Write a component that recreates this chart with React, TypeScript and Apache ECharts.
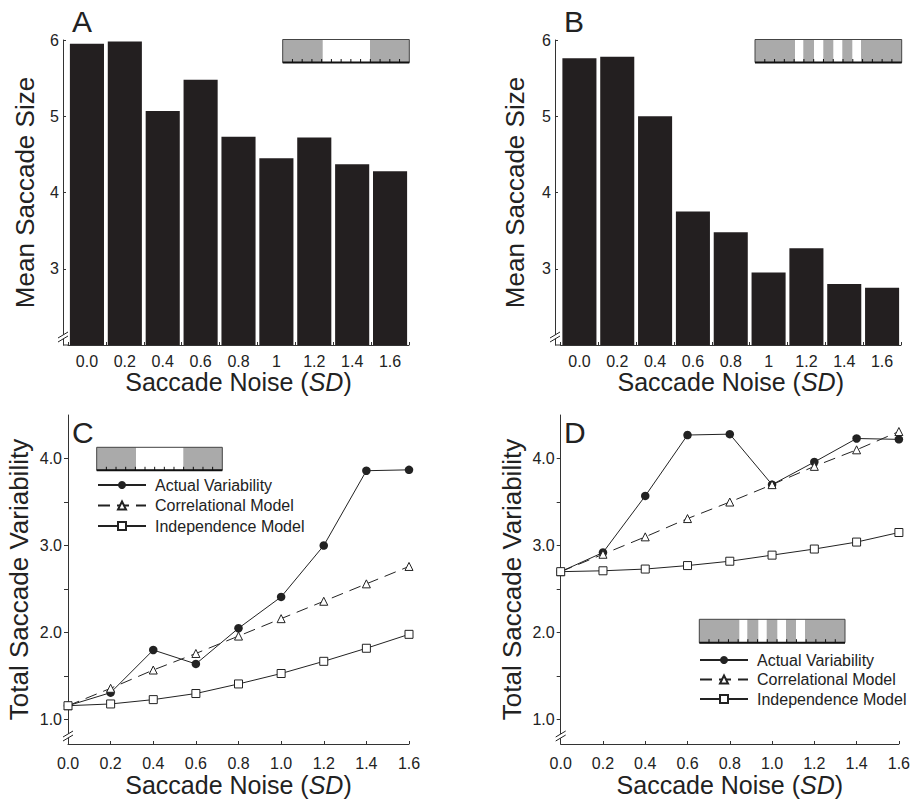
import React, { useEffect, useRef } from "react";
import * as echarts from "echarts";

const barCategories = ["0.0", "0.2", "0.4", "0.6", "0.8", "1", "1.2", "1.4", "1.6"];
const meanSizeA = [5.95, 5.98, 5.07, 5.48, 4.73, 4.45, 4.72, 4.37, 4.28];
const meanSizeB = [5.76, 5.78, 5.0, 3.75, 3.48, 2.95, 3.27, 2.8, 2.75];
const barTickValues = [3, 4, 5, 6];

const noiseSD = [0, 0.2, 0.4, 0.6, 0.8, 1.0, 1.2, 1.4, 1.6];
const actualC = [1.16, 1.31, 1.8, 1.64, 2.05, 2.41, 3.0, 3.86, 3.87];
const correlationalC = [1.16, 1.36, 1.57, 1.76, 1.96, 2.16, 2.36, 2.56, 2.76];
const independenceC = [1.16, 1.18, 1.23, 1.3, 1.41, 1.53, 1.67, 1.82, 1.98];
const actualD = [2.7, 2.92, 3.57, 4.27, 4.28, 3.7, 3.96, 4.23, 4.22];
const correlationalD = [2.7, 2.9, 3.1, 3.31, 3.5, 3.7, 3.91, 4.1, 4.31];
const independenceD = [2.7, 2.71, 2.73, 2.77, 2.82, 2.89, 2.96, 3.04, 3.15];
const variabilityLabelValues = [1, 2, 3, 4];
const variabilityTickValues = [1, 1.5, 2, 2.5, 3, 3.5, 4];

const seriesNames = ["Actual Variability", "Correlational Model", "Independence Model"];
const panelLetters = ["A", "B", "C", "D"];

const FONT = "'Liberation Sans', Arial, Helvetica, sans-serif";
const INK = "#222";
const AXIS = "#333";

function stimBox(x: number, y: number, w: number, h: number, whites: number[][], divisions: number) {
  const children: any[] = [];
  children.push({ type: "rect", z: 100, shape: { x, y, width: w, height: h }, style: { fill: "#aaaaaa" } });
  whites.forEach(([a, b]) =>
    children.push({ type: "rect", z: 101, shape: { x: x + a, y, width: b - a, height: h }, style: { fill: "#ffffff" } })
  );
  children.push({
    type: "rect",
    z: 102,
    shape: { x, y, width: w, height: h },
    style: { fill: "none", stroke: "#444", lineWidth: 1 },
  });
  children.push({
    type: "line",
    z: 103,
    shape: { x1: x, y1: y + h, x2: x + w, y2: y + h },
    style: { stroke: "#111", lineWidth: 2 },
  });
  for (let i = 1; i < divisions; i++) {
    const tx = x + (i * w) / divisions;
    children.push({
      type: "line",
      z: 103,
      shape: { x1: tx, y1: y + h, x2: tx, y2: y + h - 3.5 },
      style: { stroke: "#111", lineWidth: 1 },
    });
  }
  return { type: "group", children };
}

function axisBreak(ax: number, yc: number) {
  return {
    type: "group",
    children: [
      {
        type: "polygon",
        z: 100,
        shape: { points: [[ax - 5, yc + 1], [ax + 5, yc - 5], [ax + 5, yc - 1], [ax - 5, yc + 5]] },
        style: { fill: "#fff" },
      },
      { type: "line", z: 101, shape: { x1: ax - 5, y1: yc + 1, x2: ax + 5, y2: yc - 5 }, style: { stroke: INK, lineWidth: 1 } },
      { type: "line", z: 101, shape: { x1: ax - 5, y1: yc + 5, x2: ax + 5, y2: yc - 1 }, style: { stroke: INK, lineWidth: 1 } },
    ],
  };
}

function panelLetter(text: string, x: number, y: number) {
  return {
    type: "text",
    z: 100,
    x,
    y,
    style: { text, font: `30px ${FONT}`, fill: INK, textAlign: "left", textVerticalAlign: "middle" },
  };
}

const xNameStyle = {
  fontSize: 25,
  fontFamily: FONT,
  color: INK,
  rich: { i: { fontStyle: "italic", fontSize: 25, fontFamily: FONT, color: INK } },
};
const yNameStyle = { fontSize: 26, fontFamily: FONT, color: INK };
const labelStyle = { fontSize: 16, fontFamily: FONT, color: INK };

function barXAxis(gridIndex: number) {
  return {
    type: "category",
    gridIndex,
    data: barCategories,
    axisLine: { show: true, lineStyle: { color: AXIS, width: 1 } },
    axisTick: { show: true, inside: true, length: 3, lineStyle: { color: AXIS } },
    axisLabel: { ...labelStyle, margin: 8 },
    name: "Saccade Noise ({i|SD})",
    nameLocation: "middle",
    nameGap: 22,
    nameTextStyle: xNameStyle,
  };
}

function barYAxis(gridIndex: number, nameGap: number, offset: number) {
  return {
    type: "value",
    gridIndex,
    min: 2,
    max: 6,
    interval: 1,
    offset,
    splitLine: { show: false },
    axisLine: { show: true, lineStyle: { color: AXIS, width: 1 } },
    axisTick: { show: true, inside: true, length: 3, customValues: barTickValues, lineStyle: { color: AXIS } },
    axisLabel: { ...labelStyle, margin: 4, customValues: barTickValues },
    name: "Mean Saccade Size",
    nameLocation: "middle",
    nameGap,
    nameTextStyle: yNameStyle,
  };
}

function lineXAxis(gridIndex: number) {
  return {
    type: "value",
    gridIndex,
    min: 0,
    max: 1.6,
    interval: 0.2,
    splitLine: { show: false },
    axisLine: { show: true, onZero: false, lineStyle: { color: AXIS, width: 1 } },
    axisTick: { show: true, inside: true, length: 3, lineStyle: { color: AXIS } },
    axisLabel: { ...labelStyle, margin: 11, formatter: (v: number) => v.toFixed(1) },
    name: "Saccade Noise ({i|SD})",
    nameLocation: "middle",
    nameGap: 28,
    nameTextStyle: xNameStyle,
  };
}

function lineYAxis(gridIndex: number, nameGap: number) {
  return {
    type: "value",
    gridIndex,
    min: 0.72,
    max: 4.5,
    splitLine: { show: false },
    axisLine: { show: true, onZero: false, lineStyle: { color: AXIS, width: 1 } },
    axisTick: { show: true, inside: false, length: 4, customValues: variabilityTickValues, lineStyle: { color: AXIS } },
    axisLabel: { ...labelStyle, margin: 6, customValues: variabilityLabelValues, formatter: (v: number) => v.toFixed(1) },
    name: "Total Saccade Variability",
    nameLocation: "middle",
    nameGap,
    nameTextStyle: yNameStyle,
  };
}

function pairs(values: number[]) {
  return noiseSD.map((x, i) => [x, values[i]]);
}

function lineSeries(idx: number, actual: number[], corr: number[], indep: number[]) {
  return [
    {
      type: "line",
      name: seriesNames[0],
      xAxisIndex: idx,
      yAxisIndex: idx,
      data: pairs(actual),
      symbol: "circle",
      symbolSize: 8.5,
      lineStyle: { color: INK, width: 1 },
      itemStyle: { color: INK, borderColor: INK, borderWidth: 0 },
      z: 3,
    },
    {
      type: "line",
      name: seriesNames[1],
      xAxisIndex: idx,
      yAxisIndex: idx,
      data: pairs(corr),
      symbol: "triangle",
      symbolSize: 8,
      lineStyle: { color: INK, width: 1, type: [12, 7] },
      itemStyle: { color: "#fff", borderColor: INK, borderWidth: 1 },
      z: 4,
    },
    {
      type: "line",
      name: seriesNames[2],
      xAxisIndex: idx,
      yAxisIndex: idx,
      data: pairs(indep),
      symbol: "rect",
      symbolSize: 8,
      lineStyle: { color: INK, width: 1 },
      itemStyle: { color: "#fff", borderColor: INK, borderWidth: 1 },
      z: 5,
    },
  ];
}

function legendAt(left: number, top: number, itemGap: number) {
  return {
    orient: "vertical",
    left,
    top,
    padding: 0,
    itemGap,
    itemWidth: 48,
    itemHeight: 10,
    selectedMode: false,
    data: seriesNames,
    textStyle: { fontSize: 16, fontFamily: FONT, color: INK, padding: [0, 0, 0, 4] },
  };
}

export default function App() {
  const ref = useRef<HTMLDivElement>(null);

  useEffect(() => {
    document.body.style.margin = "0";
    if (!ref.current) return;
    const chart = echarts.init(ref.current, undefined, { renderer: "svg" });
    const option: any = {
      animation: false,
      backgroundColor: "#ffffff",
      textStyle: { fontFamily: FONT },
      grid: [
        { left: 68, top: 40, width: 341, height: 305, containLabel: false },
        { left: 560.5, top: 40, width: 340.5, height: 305, containLabel: false },
        { left: 68, top: 415, width: 341, height: 329, containLabel: false },
        { left: 560.7, top: 415, width: 341, height: 329, containLabel: false },
      ],
      xAxis: [barXAxis(0), barXAxis(1), lineXAxis(2), lineXAxis(3)],
      yAxis: [barYAxis(0, 25, 5), barYAxis(1, 27, 5.5), lineYAxis(2, 36), lineYAxis(3, 36)],
      legend: [legendAt(97, 477, 4.5), legendAt(699, 652, 3.5)],
      series: [
        {
          type: "bar",
          xAxisIndex: 0,
          yAxisIndex: 0,
          data: meanSizeA,
          barCategoryGap: "10%",
          itemStyle: { color: "#231f20" },
        },
        {
          type: "bar",
          xAxisIndex: 1,
          yAxisIndex: 1,
          data: meanSizeB,
          barCategoryGap: "10%",
          itemStyle: { color: "#231f20" },
        },
        ...lineSeries(2, actualC, correlationalC, independenceC),
        ...lineSeries(3, actualD, correlationalD, independenceD),
      ],
      graphic: [
        panelLetter(panelLetters[0], 72, 21),
        panelLetter(panelLetters[1], 564, 21),
        panelLetter(panelLetters[2], 72, 432),
        panelLetter(panelLetters[3], 564, 432),
        stimBox(282.7, 39.5, 126.6, 23, [[40, 87.3]], 13),
        stimBox(755, 39.5, 146.7, 23, [[40, 48.3], [59, 68.3], [78.3, 87.3], [97.3, 106]], 15),
        stimBox(96.7, 447.3, 125.6, 23, [[39.3, 86.6]], 13),
        stimBox(699.3, 619.3, 145.7, 23.4, [[40, 48], [59, 67.4], [78, 86.7], [96.7, 105.7]], 15),
        { type: "line", z: 99, shape: { x1: 63, y1: 345, x2: 68, y2: 345 }, style: { stroke: AXIS, lineWidth: 1 } },
        { type: "line", z: 99, shape: { x1: 555, y1: 345, x2: 560.5, y2: 345 }, style: { stroke: AXIS, lineWidth: 1 } },
        axisBreak(63, 337),
        axisBreak(555, 337),
        axisBreak(68, 736),
        axisBreak(560.7, 736),
      ],
    };
    chart.setOption(option);
    return () => chart.dispose();
  }, []);

  return <div ref={ref} style={{ width: 913, height: 803 }} />;
}
